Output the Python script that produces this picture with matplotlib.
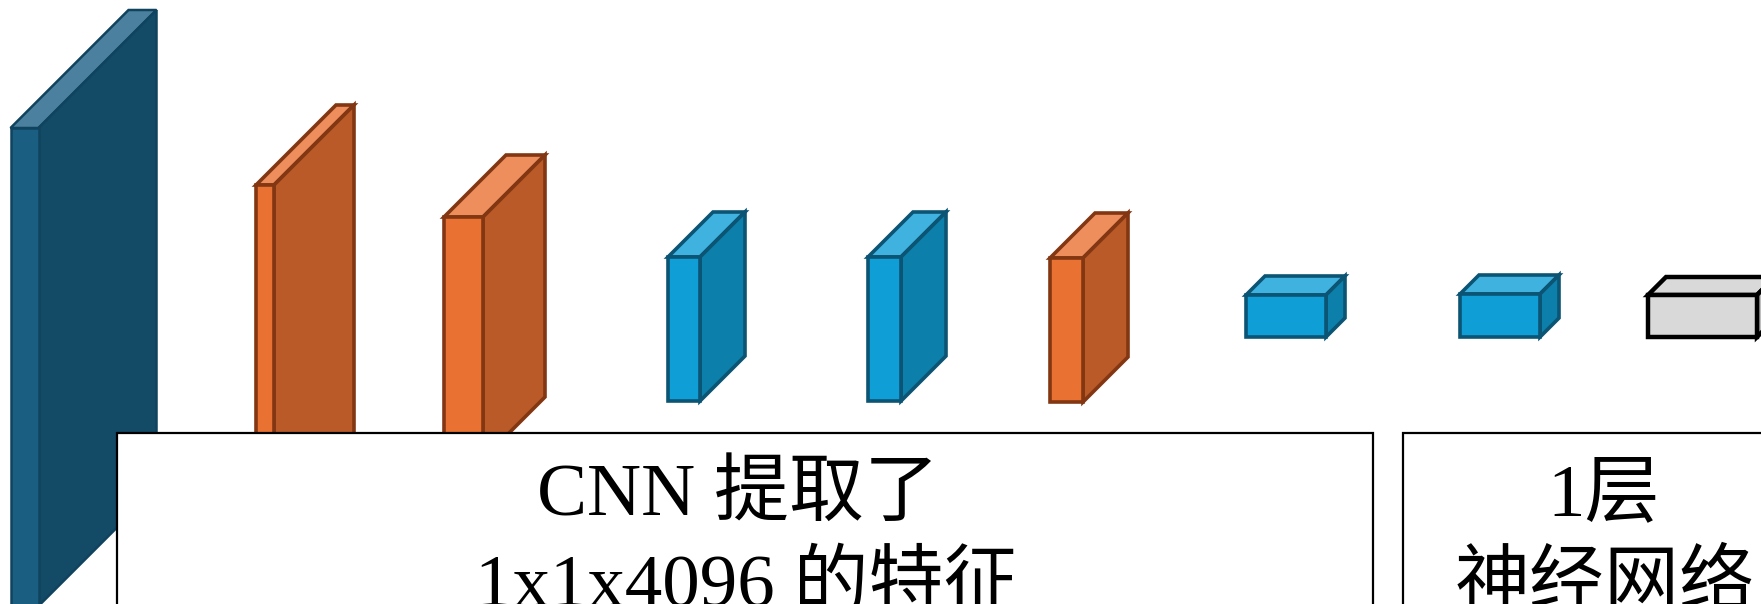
import matplotlib
matplotlib.use("Agg")
import matplotlib.pyplot as plt
from matplotlib.patches import Polygon, Rectangle

# layer blocks: front face left x, top y, width, height, depth offset (pixels)
box_x = [10.5, 256, 444, 668, 868, 1050, 1246, 1460, 1648]
box_top = [128, 185, 217, 257, 257, 258, 295, 294, 295]
box_w = [28, 18, 39, 32, 33, 33, 80, 80, 109]
box_h = [478, 335, 242, 144, 144, 144, 42, 43, 42]
box_depth = [118, 80, 62, 45, 45, 45, 19, 19, 18]
box_kind = ["dark", "orange", "orange", "blue", "blue", "orange", "blue", "blue", "gray"]

# label boxes and their text lines
label_x0 = [117, 1403]
label_x1 = [1373, 1790]
label_lines = [["CNN 提取了", "1x1x4096 的特征"], ["1层", "神经网络"]]
line_cx = [[738, 747], [1604, 1605]]

colors = {
    "dark":   dict(front="#1A5F81", side="#134A66", top="#4B819E", edge="#10435E", lw=1.8),
    "orange": dict(front="#E97132", side="#BA5A28", top="#EE8E5D", edge="#823712", lw=2.6),
    "blue":   dict(front="#0F9ED5", side="#0D7FAB", top="#40B2E0", edge="#0B5473", lw=2.6),
    "gray":   dict(front="#D9D9D9", side="#BFBFBF", top="#D9D9D9", edge="#000000", lw=3.2),
}

fig = plt.figure(figsize=(17.61, 6.04), dpi=100)
ax = fig.add_axes([0, 0, 1, 1])
ax.set_xlim(0, 1761)
ax.set_ylim(604, 0)
ax.axis("off")

for x, t, w, h, d, k in zip(box_x, box_top, box_w, box_h, box_depth, box_kind):
    c = colors[k]
    b = t + h
    kw = dict(closed=True, edgecolor=c["edge"], linewidth=c["lw"], joinstyle="miter", zorder=2)
    ax.add_patch(Polygon([(x, t), (x + d, t - d), (x + w + d, t - d), (x + w, t)],
                         facecolor=c["top"], **kw))
    ax.add_patch(Polygon([(x + w, t), (x + w + d, t - d), (x + w + d, b - d), (x + w, b)],
                         facecolor=c["side"], **kw))
    ax.add_patch(Polygon([(x, t), (x + w, t), (x + w, b), (x, b)],
                         facecolor=c["front"], **kw))

font = ["Liberation Serif", "Noto Sans CJK SC"]
baselines = [515, 606]
for x0, x1, lines, cxs in zip(label_x0, label_x1, label_lines, line_cx):
    ax.add_patch(Rectangle((x0, 433), x1 - x0, 400, facecolor="white",
                           edgecolor="black", linewidth=1.6, zorder=5))
    for s, cx, yb in zip(lines, cxs, baselines):
        ax.text(cx, yb, s, ha="center", va="baseline", fontsize=54,
                family=font, color="black", zorder=6)

fig.savefig("out.png", dpi=100)
